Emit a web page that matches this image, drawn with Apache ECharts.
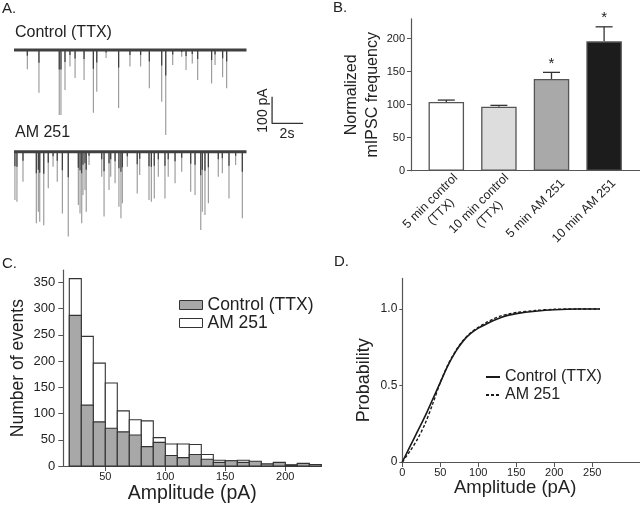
<!DOCTYPE html>
<html><head><meta charset="utf-8">
<script src="https://cdn.jsdelivr.net/npm/echarts@6/dist/echarts.min.js"></script>
<style>html,body{margin:0;padding:0;background:#fff}#c{width:640px;height:507px}</style>
</head><body><div id="c"></div>
<script>
// ---------- Panel A: mIPSC traces (event time in s, amplitude in pA) ----------
const ctrlEventTimes = [0.86, 1.61, 2.92, 3.03, 3.29, 3.61, 3.94, 4.52, 5.12, 5.34, 5.94, 6.75, 7.48, 8.17, 8.73, 9.53, 9.79, 10.24, 10.82, 11.10, 11.50, 11.85, 12.75, 12.97, 13.46, 13.72];
const ctrlEventAmps  = [72, 160, 243, 243, 150, 62, 105, 112, 235, 156, 30, 217, 62, 62, 143, 194, 318, 56, 25, 75, 50, 112, 125, 56, 102, 143];
const amEventTimes = [0.06, 0.19, 0.58, 1.44, 1.57, 1.66, 1.92, 2.21, 2.52, 2.79, 3.12, 3.50, 4.15, 4.26, 4.37, 4.45, 4.58, 4.66, 4.84, 5.66, 5.81, 6.13, 6.24, 6.52, 6.77, 6.90, 6.99, 7.31, 7.95, 8.11, 8.71, 8.86, 9.05, 9.31, 9.74, 9.95, 10.39, 10.82, 11.40, 11.68, 12.05, 12.15, 12.32, 12.54, 13.18, 13.44, 13.87, 14.30, 14.73];
const amEventAmps  = [181, 187, 112, 268, 225, 262, 275, 137, 56, 112, 231, 318, 200, 231, 268, 162, 143, 225, 50, 94, 243, 143, 94, 118, 206, 249, 193, 56, 156, 87, 181, 187, 175, 94, 175, 94, 118, 75, 150, 162, 293, 225, 237, 193, 94, 81, 175, 50, 249];
const traceDuration = 15;          // s
const scaleBarTime = 2;            // s
const scaleBarAmp = 100;           // pA
const scaleBarOrigin = [16.65, -175];

// ---------- Panel B: normalized mIPSC frequency ----------
const bCategories = ['5 min control\n(TTX)', '10 min control\n(TTX)', '5 min AM 251', '10 min AM 251'];
const bValues = [104, 97, 139, 196];
const bErrors = [3, 2, 10, 22];
const bSignificance = ['', '', '*', '*'];
const bYTicks = [0, 50, 100, 150, 200];
const bBarColors = ['#ffffff', '#dddddd', '#a9a9a9', '#1c1c1c'];

// ---------- Panel C: amplitude histogram ----------
const cBinStarts = [20, 30, 40, 50, 60, 70, 80, 90, 100, 110, 120, 130, 140, 150, 160, 170, 180, 190, 200, 210, 220];
const cBinWidth = 10;
const cControl = [287, 116, 84, 72, 65, 59, 37, 45, 20, 16, 22, 13, 7, 10, 7, 9, 4, 7, 2, 5, 3];
const cAM251   = [357, 247, 196, 158, 105, 88, 86, 54, 42, 42, 41, 22, 11, 10, 11, 7, 3, 5, 2, 4, 2];
const cXTicks = [50, 100, 150, 200];
const cYTicks = [0, 50, 100, 150, 200, 250, 300, 350];

// ---------- Panel D: cumulative probability ----------
const dAmplitude = [0, 10, 20, 30, 40, 50, 60, 70, 80, 90, 100, 110, 120, 130, 140, 150, 175, 200, 230, 260];
const dControl = [0, 0.10, 0.20, 0.30, 0.41, 0.52, 0.63, 0.72, 0.79, 0.84, 0.875, 0.90, 0.925, 0.945, 0.96, 0.97, 0.985, 0.995, 1.0, 1.0];
const dAM251   = [0, 0.07, 0.15, 0.25, 0.38, 0.52, 0.635, 0.725, 0.795, 0.845, 0.88, 0.91, 0.935, 0.955, 0.968, 0.977, 0.99, 0.998, 1.0, 1.0];
const dXTicks = [0, 50, 100, 150, 200, 250];
const dYTicks = [0, 0.5, 1.0];

// ---------------------------------------------------------------
const FONT = 'Liberation Sans, Arial, Helvetica, sans-serif';
const TXT = '#222';
const AX = '#555';
const chart = echarts.init(document.getElementById('c'), null, {renderer: 'canvas'});

function spikeRender(params, api) {
  const t = api.value(0), a = api.value(1);
  const p0 = api.coord([t, 0]);
  const pm = api.coord([t, -a * 0.3]);
  const p1 = api.coord([t, -a]);
  return {type: 'group', children: [
    {type: 'line', shape: {x1: p0[0], y1: p0[1], x2: p1[0], y2: p1[1]}, style: {stroke: '#959595', lineWidth: 1.1}},
    {type: 'line', shape: {x1: p0[0], y1: p0[1], x2: pm[0], y2: pm[1]}, style: {stroke: '#3c3c3c', lineWidth: 1.2}}
  ]};
}
function hidden(extra) {
  return Object.assign({show: false}, extra);
}
const zip = (a, b) => a.map((v, i) => [v, b[i]]);

const scaleBarPts = [
  [scaleBarOrigin[0], scaleBarOrigin[1]],
  [scaleBarOrigin[0], scaleBarOrigin[1] - scaleBarAmp],
  [scaleBarOrigin[0] + scaleBarTime, scaleBarOrigin[1] - scaleBarAmp]
];

// rich styles so that the second line of a B label is centred under the first
const measureCtx = document.createElement('canvas').getContext('2d');
measureCtx.font = '12.5px ' + FONT;
const bRich = {};
bCategories.forEach((c, i) => {
  const w = Math.max(...c.split('\n').map(s => measureCtx.measureText(s).width));
  bRich['r' + i] = {width: Math.ceil(w) + 1, align: 'center', fontSize: 12.5, lineHeight: 15, color: TXT, fontFamily: FONT};
});

function histRender(params, api) {
  const x0 = api.value(0), y = api.value(1);
  const p0 = api.coord([x0, y]);
  const p1 = api.coord([x0 + cBinWidth, 0]);
  return {type: 'rect', shape: {x: p0[0], y: p0[1], width: p1[0] - p0[0], height: p1[1] - p0[1]},
    style: api.style()};
}

const option = {
  animation: false,
  backgroundColor: '#fff',
  textStyle: {fontFamily: FONT},
  grid: [
    {left: 14, top: 44.7, width: 294.5, height: 112.1},   // 0 control trace
    {left: 14, top: 146.4, width: 294.5, height: 112.1},  // 1 AM trace
    {left: 411, top: 18.9, width: 229, height: 151.8},    // 2 B axes
    {left: 420, top: 18.9, width: 210.4, height: 151.8},  // 3 B bars
    {left: 436, top: 18.9, width: 210.4, height: 151.8},  // 4 B labels
    {left: 63.3, top: 270.2, width: 258, height: 195.8},  // 5 C
    {left: 402.3, top: 278.4, width: 237.7, height: 183.6} // 6 D
  ],
  xAxis: [
    hidden({type: 'value', gridIndex: 0, min: 0, max: 19}),
    hidden({type: 'value', gridIndex: 1, min: 0, max: 19}),
    {type: 'value', gridIndex: 2, min: 0, max: 1, axisLine: {lineStyle: {color: AX, width: 1.2}},
      axisTick: {show: false}, axisLabel: {show: false}, splitLine: {show: false}},
    {type: 'category', gridIndex: 3, data: bCategories, show: false},
    {type: 'category', gridIndex: 4, data: bCategories, axisLine: {show: false}, axisTick: {show: false},
      axisLabel: {rotate: 45, margin: 10, fontSize: 12.5, color: TXT, fontFamily: FONT, lineHeight: 15, interval: 0,
        formatter: (v, i) => v.split('\n').map(s => '{r' + i + '|' + s + '}').join('\n'), rich: bRich}},
    {type: 'value', gridIndex: 5, min: 15, max: 230,
      axisLine: {lineStyle: {color: AX, width: 1.2}},
      axisTick: {customValues: cXTicks, length: 5, lineStyle: {color: AX}},
      axisLabel: {customValues: cXTicks, fontSize: 11, color: TXT, margin: 5},
      splitLine: {show: false},
      name: 'Amplitude (pA)', nameLocation: 'middle', nameGap: 18,
      nameTextStyle: {fontSize: 19.5, color: TXT, fontFamily: FONT}},
    {type: 'value', gridIndex: 6, min: 0, max: 312.8,
      axisLine: {lineStyle: {color: AX, width: 1.2}},
      axisTick: {customValues: dXTicks, length: 5, lineStyle: {color: AX}},
      axisLabel: {customValues: dXTicks, fontSize: 11, color: TXT, margin: 5},
      splitLine: {show: false},
      name: 'Amplitude (pA)', nameLocation: 'middle', nameGap: 15,
      nameTextStyle: {fontSize: 18.5, color: TXT, fontFamily: FONT, padding: [0, 12, 0, 0]}}
  ],
  yAxis: [
    hidden({type: 'value', gridIndex: 0, min: -400, max: 20}),
    hidden({type: 'value', gridIndex: 1, min: -400, max: 20}),
    {type: 'value', gridIndex: 2, min: 0, max: 230,
      axisLine: {show: true, lineStyle: {color: AX, width: 1.2}},
      axisTick: {show: true, customValues: bYTicks, length: 4, lineStyle: {color: AX}},
      axisLabel: {customValues: bYTicks, fontSize: 11, color: TXT, margin: 6},
      splitLine: {show: false},
      name: 'Normalized\nmIPSC frequency', nameLocation: 'middle', nameGap: 28,
      nameTextStyle: {fontSize: 16, color: TXT, lineHeight: 21, fontFamily: FONT}},
    hidden({type: 'value', gridIndex: 3, min: 0, max: 230}),
    hidden({type: 'value', gridIndex: 4, min: 0, max: 230}),
    {type: 'value', gridIndex: 5, min: 0, max: 373,
      axisLine: {show: true, lineStyle: {color: AX, width: 1.2}},
      axisTick: {show: true, customValues: cYTicks, length: 5, lineStyle: {color: AX}},
      axisLabel: {customValues: cYTicks, fontSize: 13, color: TXT, margin: 8},
      splitLine: {show: false},
      name: 'Number of events', nameLocation: 'middle', nameGap: 36,
      nameTextStyle: {fontSize: 17.5, color: TXT, fontFamily: FONT}},
    {type: 'value', gridIndex: 6, min: 0, max: 1.2,
      axisLine: {show: true, lineStyle: {color: AX, width: 1.2}},
      axisTick: {show: true, customValues: dYTicks, length: 3, lineStyle: {color: AX}},
      axisLabel: {customValues: dYTicks, fontSize: 12, color: TXT, margin: 5,
        formatter: v => (v === 0 ? '0' : v.toFixed(1))},
      splitLine: {show: false},
      name: 'Probability', nameLocation: 'middle', nameGap: 29,
      nameTextStyle: {fontSize: 18, color: TXT, fontFamily: FONT, padding: [0, 20, 0, 0]}}
  ],
  legend: [
    {left: 179, top: 296, orient: 'vertical', itemGap: 0, itemWidth: 23, itemHeight: 9, icon: 'rect',
      data: ['Control (TTX)', 'AM 251'], textStyle: {fontSize: 17.5, color: TXT, fontFamily: FONT, lineHeight: 17},
      itemStyle: {borderColor: '#333', borderWidth: 1}, padding: 0, selectedMode: false},
    {left: 485, top: 369, orient: 'vertical', itemGap: 2, itemWidth: 14, itemHeight: 8,
      data: ['Control (TTX) ', 'AM 251 '], textStyle: {fontSize: 16, color: TXT, fontFamily: FONT, lineHeight: 16},
      itemStyle: {opacity: 0}, padding: 0, selectedMode: false,
      formatter: n => n.trim()}
  ],
  series: [
    // Panel A
    {type: 'custom', xAxisIndex: 0, yAxisIndex: 0, renderItem: spikeRender, data: zip(ctrlEventTimes, ctrlEventAmps), encode: {x: 0, y: 1}, silent: true},
    {type: 'line', xAxisIndex: 0, yAxisIndex: 0, data: [[0, 0], [traceDuration, 0]], symbol: 'none', lineStyle: {color: '#404040', width: 3}, silent: true, z: 3},
    {type: 'custom', xAxisIndex: 1, yAxisIndex: 1, renderItem: spikeRender, data: zip(amEventTimes, amEventAmps), encode: {x: 0, y: 1}, silent: true},
    {type: 'line', xAxisIndex: 1, yAxisIndex: 1, data: [[0, 0], [traceDuration, 0]], symbol: 'none', lineStyle: {color: '#404040', width: 3}, silent: true, z: 3},
    {type: 'line', xAxisIndex: 0, yAxisIndex: 0, data: scaleBarPts, symbol: 'none', lineStyle: {color: '#333', width: 1.3}, silent: true},
    // Panel B
    {type: 'bar', xAxisIndex: 3, yAxisIndex: 3, barWidth: 35.5, silent: true,
      data: bValues.map((v, i) => ({value: v, itemStyle: {color: bBarColors[i]}})),
      itemStyle: {borderColor: '#555', borderWidth: 1.3}},
    {type: 'custom', xAxisIndex: 3, yAxisIndex: 3, silent: true, z: 1,
      data: bValues.map((v, i) => [i, v, bErrors[i]]), encode: {x: 0, y: 1},
      renderItem: (params, api) => {
        const i = api.value(0), v = api.value(1), e = api.value(2);
        const base = api.coord([i, v]);
        const top = api.coord([i, v + e]);
        const hw = 8.5;
        const col = '#333';
        const ch = [
          {type: 'line', shape: {x1: base[0], y1: base[1], x2: top[0], y2: top[1]}, style: {stroke: col, lineWidth: 1.3}},
          {type: 'line', shape: {x1: top[0] - hw, y1: top[1], x2: top[0] + hw, y2: top[1]}, style: {stroke: col, lineWidth: 1.3}}
        ];
        if (bSignificance[params.dataIndex]) {
          ch.push({type: 'text', style: {text: bSignificance[params.dataIndex], x: top[0], y: top[1] - 1,
            align: 'center', verticalAlign: 'bottom', fontSize: 15, fontFamily: FONT, fill: '#222'}});
        }
        return {type: 'group', children: ch};
      }},
    // Panel C (AM 251 behind, Control in front)
    {type: 'custom', name: 'Control (TTX)', xAxisIndex: 5, yAxisIndex: 5, silent: true, z: 3,
      itemStyle: {color: '#a8a8a8', borderColor: '#333', borderWidth: 1.1},
      data: zip(cBinStarts, cControl), encode: {x: 0, y: 1},
      renderItem: histRender},
    {type: 'custom', name: 'AM 251', xAxisIndex: 5, yAxisIndex: 5, silent: true, z: 2,
      itemStyle: {color: '#ffffff', borderColor: '#333', borderWidth: 1.1},
      data: zip(cBinStarts, cAM251), encode: {x: 0, y: 1},
      renderItem: histRender},
    // Panel D
    {type: 'line', name: 'Control (TTX) ', xAxisIndex: 6, yAxisIndex: 6, data: zip(dAmplitude, dControl),
      symbol: 'none', smooth: 0.3, lineStyle: {color: '#1a1a1a', width: 1.6}, itemStyle: {color: '#1a1a1a'}, silent: true},
    {type: 'line', name: 'AM 251 ', xAxisIndex: 6, yAxisIndex: 6, data: zip(dAmplitude, dAM251),
      symbol: 'none', smooth: 0.3, lineStyle: {color: '#1a1a1a', width: 1.4, type: [3, 2]}, itemStyle: {color: '#1a1a1a'}, silent: true}
  ],
  graphic: [
    {type: 'text', left: 2, top: 1, style: {text: 'A.', fontSize: 15, fontFamily: FONT, fill: TXT}},
    {type: 'text', left: 333, top: 0, style: {text: 'B.', fontSize: 15, fontFamily: FONT, fill: TXT}},
    {type: 'text', left: 2, top: 256, style: {text: 'C.', fontSize: 15, fontFamily: FONT, fill: TXT}},
    {type: 'text', left: 334, top: 254, style: {text: 'D.', fontSize: 15, fontFamily: FONT, fill: TXT}},
    {type: 'text', left: 15, top: 25, style: {text: 'Control (TTX)', fontSize: 16, fontFamily: FONT, fill: TXT}},
    {type: 'text', left: 15, top: 125, style: {text: 'AM 251', fontSize: 16, fontFamily: FONT, fill: TXT}},
    {type: 'text', x: 263, y: 110.5, rotation: Math.PI / 2,
      style: {text: '100 pA', fontSize: 14, fontFamily: FONT, fill: TXT, align: 'center', verticalAlign: 'middle'}},
    {type: 'text', x: 287, y: 134, style: {text: '2s', fontSize: 14, fontFamily: FONT, fill: TXT, align: 'center', verticalAlign: 'middle'}}
  ]
};

chart.setOption(option);
</script>
</body></html>
